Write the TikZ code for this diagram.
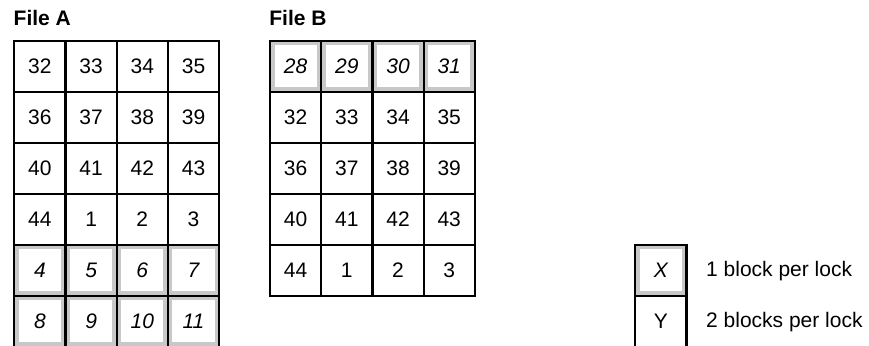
\documentclass[tikz,border=0pt]{standalone}
\usepackage{fontspec}
\setmainfont{Liberation Sans}
\usepackage{tikz}

\definecolor{lockgray}{RGB}{200,200,200}

\tikzset{
  cell/.style={draw=black,line width=2.2pt,minimum width=51.2pt,minimum height=51pt,inner sep=0pt,
    font=\fontsize{21}{24}\selectfont},
  onelock/.style={cell,font=\fontsize{21}{24}\selectfont\itshape,
    path picture={\draw[lockgray,line width=9pt] (path picture bounding box.south west) rectangle (path picture bounding box.north east);}},
  title/.style={inner sep=0pt,anchor=base west,font=\fontsize{21}{24}\selectfont\bfseries},
  legtext/.style={inner sep=0pt,anchor=west,font=\fontsize{21}{24}\selectfont}
}

\begin{document}
\begin{tikzpicture}[x=1pt,y=-1pt]
\useasboundingbox (0,0) rectangle (869,345);
\clip (0,0) rectangle (869,345);

% file A
\node[title] (titleA) at (13.5,26) {File A};
\foreach \row [count=\r] in {{32,33,34,35},{36,37,38,39},{40,41,42,43},{44,1,2,3}}
  \foreach \v [count=\c] in \row
    \node[cell] (a-\r-\c) at ({14.3+51.2*(\c-0.5)},{40.8+51*(\r-0.5)}) {\v};
\foreach \row [count=\r from 5] in {{4,5,6,7},{8,9,10,11}}
  \foreach \v [count=\c] in \row
    \node[onelock] (a-\r-\c) at ({14.3+51.2*(\c-0.5)},{40.8+51*(\r-0.5)}) {\v};

% file B
\node[title] (titleB) at (269.2,26) {File B};
\foreach \v [count=\c] in {28,29,30,31}
  \node[onelock] (b-1-\c) at ({270+51.2*(\c-0.5)},{40.8+51*0.5}) {\v};
\foreach \row [count=\r from 2] in {{32,33,34,35},{36,37,38,39},{40,41,42,43},{44,1,2,3}}
  \foreach \v [count=\c] in \row
    \node[cell] (b-\r-\c) at ({270+51.2*(\c-0.5)},{40.8+51*(\r-0.5)}) {\v};

% legend
\node[onelock] (legX) at (660.8,270.3) {X};
\node[cell] (legY) at (660.8,321.3) {Y};
\node[legtext] (legXtext) at (706,271) {1 block per lock};
\node[legtext] (legYtext) at (706,322) {2 blocks per lock};
\end{tikzpicture}
\end{document}
